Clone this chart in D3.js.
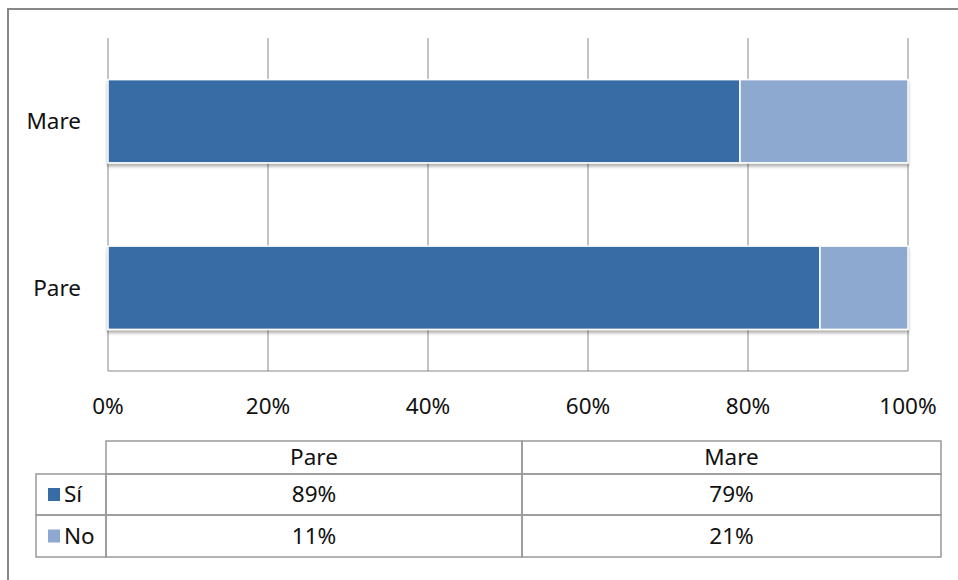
<!DOCTYPE html>
<meta charset="utf-8">
<style>
body { margin: 0; background: #fff; }
text { font-family: "Noto Sans", sans-serif; fill: #111; font-size: 22.5px; }
.grid line { stroke: #888; stroke-width: 1; }
.cell { stroke: #999; stroke-width: 1.5; fill: none; }
</style>
<body>
<script src="https://d3js.org/d3.v7.min.js"></script>
<script>

// chart data
var categories = ["Pare", "Mare"];
var series = ["Sí", "No"];
var siValues = [89, 79];
var noValues = [11, 21];
var xTicks = [0, 20, 40, 60, 80, 100];
var colors = ["#386ca5", "#8ea9cf"];

var width = 958, height = 580;

var svg = d3.select("body").append("svg")
    .attr("width", width)
    .attr("height", height);

// drop shadow under the bars
var defs = svg.append("defs");
var f = defs.append("filter").attr("id", "shadow")
    .attr("x", "-5%").attr("y", "-10%").attr("width", "110%").attr("height", "130%");
f.append("feDropShadow").attr("dx", 0).attr("dy", 3).attr("stdDeviation", 1.5)
    .attr("flood-color", "#000").attr("flood-opacity", 0.3);

// chart frame
svg.append("rect")
    .attr("x", 8).attr("y", 9)
    .attr("width", 960).attr("height", 580)
    .attr("fill", "none").attr("stroke", "#888").attr("stroke-width", 2);

// scales
var x = d3.scaleLinear().domain([0, 100]).range([108, 908]);
var y = d3.scaleBand()
    .domain(categories.slice().reverse())
    .range([38, 371])
    .paddingInner(0.5)
    .paddingOuter(0.25);

// vertical gridlines
svg.append("g").attr("class", "grid")
  .selectAll("line")
    .data(xTicks)
  .enter().append("line")
    .attr("x1", function(d) { return x(d); })
    .attr("x2", function(d) { return x(d); })
    .attr("y1", 38).attr("y2", 371);

// bottom axis line
svg.append("line")
    .attr("x1", x(0)).attr("x2", x(100))
    .attr("y1", 371).attr("y2", 371)
    .attr("stroke", "#888");

// stacked rows
var rows = categories.map(function(c, i) {
  return { cat: c, parts: [siValues[i], noValues[i]] };
});

var bar = svg.selectAll(".row")
    .data(rows)
  .enter().append("g")
    .attr("class", "row")
    .attr("filter", "url(#shadow)");

bar.selectAll("rect")
    .data(function(d) {
      var acc = 0;
      return d.parts.map(function(v, j) {
        var seg = { cat: d.cat, x0: acc, x1: acc + v, s: j };
        acc += v;
        return seg;
      });
    })
  .enter().append("rect")
    .attr("x", function(d) { return x(d.x0); })
    .attr("width", function(d) { return x(d.x1) - x(d.x0); })
    .attr("y", function(d) { return y(d.cat); })
    .attr("height", y.bandwidth())
    .attr("fill", function(d) { return colors[d.s]; })
    .attr("stroke", "#fff")
    .attr("stroke-width", 1.5);

// category labels
svg.selectAll(".cat")
    .data(categories)
  .enter().append("text")
    .attr("class", "cat")
    .attr("x", 81)
    .attr("y", function(d) { return y(d) + y.bandwidth() / 2; })
    .attr("dy", "0.35em")
    .attr("text-anchor", "end")
    .text(function(d) { return d; });

// x tick labels
svg.selectAll(".tick-label")
    .data(xTicks)
  .enter().append("text")
    .attr("class", "tick-label")
    .attr("x", function(d) { return x(d); })
    .attr("y", 414)
    .attr("text-anchor", "middle")
    .text(function(d) { return d + "%"; });

// data table
var colX = [36, 106, 522, 941];
var rowY = [441, 474, 515, 557];
var table = svg.append("g");

// header cells
categories.forEach(function(c, i) {
  table.append("rect").attr("class", "cell")
      .attr("x", colX[i + 1]).attr("y", rowY[0])
      .attr("width", colX[i + 2] - colX[i + 1]).attr("height", rowY[1] - rowY[0]);
  table.append("text")
      .attr("x", (colX[i + 1] + colX[i + 2]) / 2)
      .attr("y", (rowY[0] + rowY[1]) / 2)
      .attr("dy", "0.35em")
      .attr("text-anchor", "middle")
      .text(c);
});

var tableValues = [siValues, noValues];
series.forEach(function(s, r) {
  var y0 = rowY[r + 1], y1 = rowY[r + 2], cy = (y0 + y1) / 2;
  table.append("rect").attr("class", "cell")
      .attr("x", colX[0]).attr("y", y0)
      .attr("width", colX[1] - colX[0]).attr("height", y1 - y0);
  table.append("rect")
      .attr("x", 48).attr("y", cy - 6.5)
      .attr("width", 12).attr("height", 13)
      .attr("fill", colors[r]);
  table.append("text")
      .attr("x", 64).attr("y", cy)
      .attr("dy", "0.35em")
      .text(s);
  categories.forEach(function(c, i) {
    table.append("rect").attr("class", "cell")
        .attr("x", colX[i + 1]).attr("y", y0)
        .attr("width", colX[i + 2] - colX[i + 1]).attr("height", y1 - y0);
    table.append("text")
        .attr("x", (colX[i + 1] + colX[i + 2]) / 2)
        .attr("y", cy)
        .attr("dy", "0.35em")
        .attr("text-anchor", "middle")
        .text(tableValues[r][i] + "%");
  });
});

</script>
</body>
